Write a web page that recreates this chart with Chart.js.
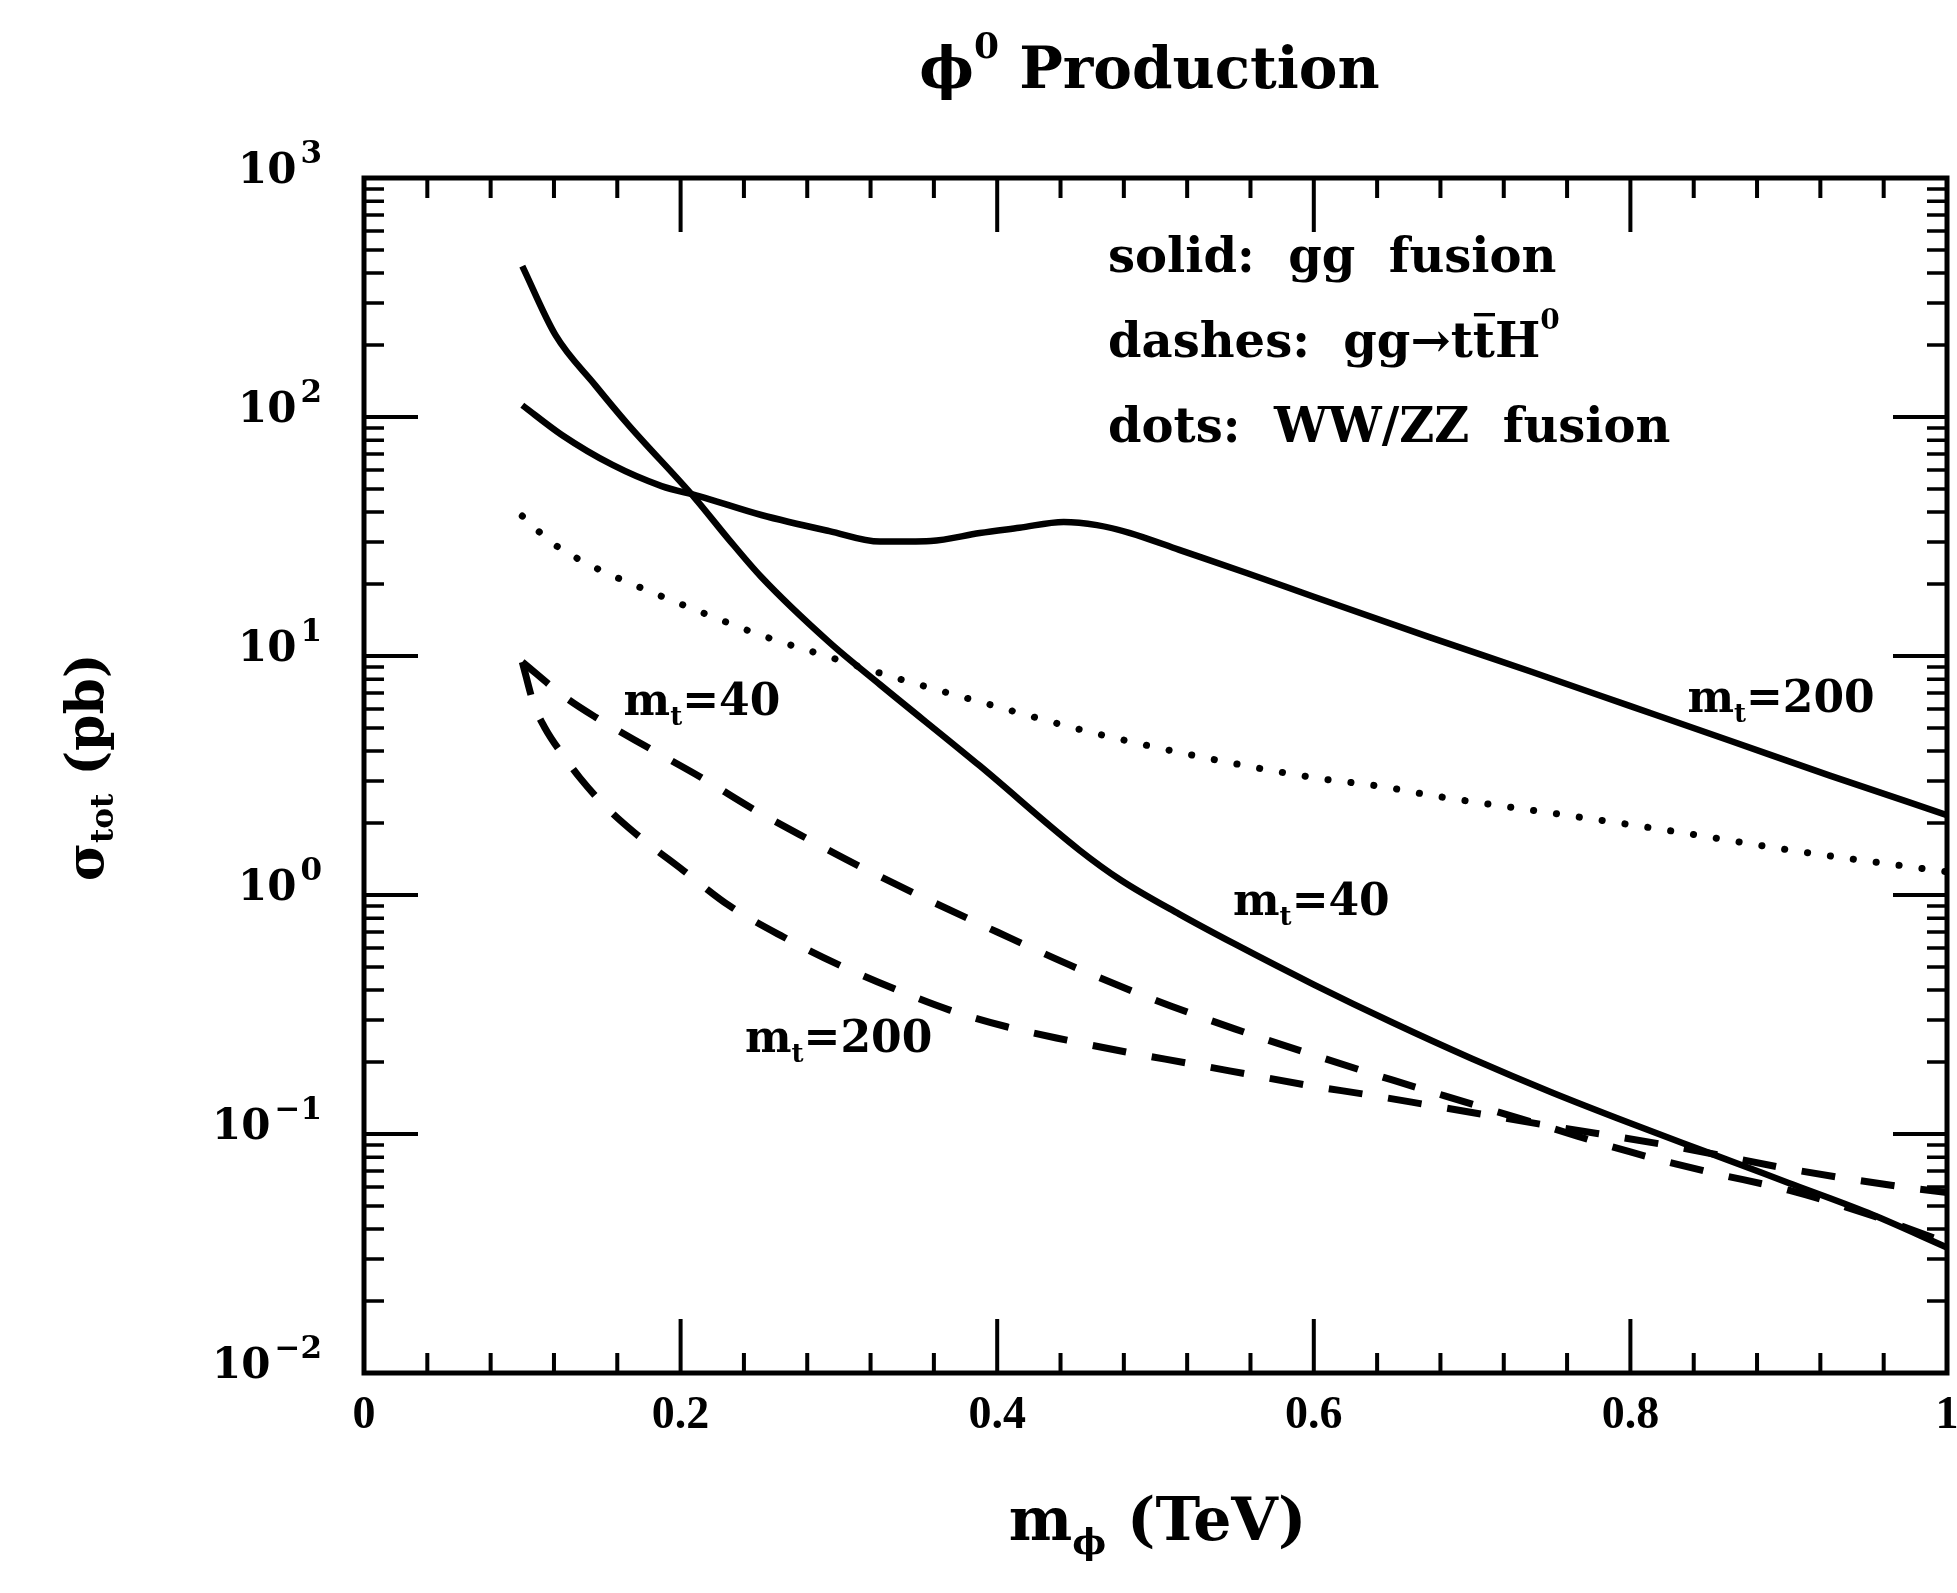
<!DOCTYPE html>
<html>
<head>
<meta charset="utf-8">
<script src="https://cdn.jsdelivr.net/npm/chart.js@4.4.1/dist/chart.umd.min.js"></script>
<style>
html,body{margin:0;padding:0;background:#fff;}
canvas{display:block;}
</style>
</head>
<body>
<canvas id="c" width="1957" height="1593"></canvas>
<script>
// ---------- axis ticks ----------
const xTickValues = [0, 0.2, 0.4, 0.6, 0.8, 1];
const xTickLabels = ['0', '0.2', '0.4', '0.6', '0.8', '1'];
const yTickValues = [0.01, 0.1, 1, 10, 100, 1000];
const yTickBase = '10';
const yTickExponents = ['\u22122', '\u22121', '0', '1', '2', '3'];

// ---------- series (m_phi in TeV, sigma_tot in pb) ----------
// solid: gg fusion, m_t = 40
const ggFusionMt40X = [0.10, 0.121, 0.146, 0.167, 0.209, 0.23, 0.251, 0.294, 0.326, 0.389, 0.452, 0.478, 0.515, 0.55, 0.60, 0.65, 0.70, 0.75, 0.80, 0.85, 0.90, 0.95, 1.00];
const ggFusionMt40Y = [428, 220, 136, 92.7, 45.8, 31.0, 21.4, 11.4, 7.59, 3.47, 1.54, 1.156, 0.832, 0.624, 0.422, 0.292, 0.2065, 0.1496, 0.1109, 0.0832, 0.0624, 0.0468, 0.0335];

// solid: gg fusion, m_t = 200
const ggFusionMt200X = [0.10, 0.125, 0.157, 0.188, 0.2115, 0.251, 0.294, 0.326, 0.358, 0.389, 0.414, 0.442, 0.463, 0.484, 0.515, 0.558, 0.60, 0.673, 0.737, 0.80, 0.863, 0.926, 1.00];
const ggFusionMt200Y = [112, 84.1, 63.0, 51.4, 46.7, 38.9, 33.3, 30.1, 30.3, 32.7, 34.4, 36.4, 35.3, 32.7, 27.8, 22.2, 17.7, 12.0, 8.61, 6.17, 4.42, 3.16, 2.16];

// dots: WW/ZZ fusion
const wwzzFusionX = [0.10, 0.119, 0.144, 0.171, 0.2115, 0.251, 0.292, 0.334, 0.389, 0.4585, 0.529, 0.601, 0.645, 0.673, 0.759, 0.829, 0.901, 1.00];
const wwzzFusionY = [38.5, 29.7, 23.8, 19.8, 15.4, 12.2, 10.0, 8.17, 6.43, 4.81, 3.78, 3.09, 2.83, 2.62, 2.16, 1.84, 1.54, 1.25];

// dashes: gg -> t tbar H0, m_t = 40
const ttHMt40X = [0.10, 0.127, 0.146, 0.18, 0.2135, 0.247, 0.281, 0.3146, 0.35, 0.40, 0.45, 0.50, 0.55, 0.60, 0.65, 0.70, 0.75, 0.80, 0.85, 0.90, 0.95, 1.00];
const ttHMt40Y = [9.44, 6.73, 5.56, 4.12, 3.09, 2.265, 1.706, 1.303, 1.00, 0.700, 0.4955, 0.363, 0.2754, 0.2138, 0.1679, 0.1334, 0.1059, 0.0841, 0.0692, 0.0582, 0.0462, 0.0351];

// dashes: gg -> t tbar H0, m_t = 200
const ttHMt200X = [0.10, 0.1074, 0.1143, 0.127, 0.1364, 0.1516, 0.171, 0.2015, 0.231, 0.265, 0.299, 0.335, 0.370, 0.406, 0.444, 0.482, 0.520, 0.558, 0.596, 0.634, 0.673, 0.75, 0.826, 0.900, 0.938, 0.977, 1.00];
const ttHMt200Y = [9.44, 6.24, 5.00, 3.74, 3.09, 2.38, 1.82, 1.27, 0.90, 0.667, 0.514, 0.405, 0.330, 0.281, 0.247, 0.220, 0.198, 0.178, 0.160, 0.146, 0.132, 0.108, 0.0891, 0.0715, 0.0649, 0.0594, 0.0569];

// ---------- text ----------
const chartTitle = 'Production';
// curve labels: anchor (left, baseline) in data units
const curveLabels = [
  { value: '40',  x: 0.164, y: 5.66 },
  { value: '200', x: 0.2407, y: 0.220 },
  { value: '40',  x: 0.549, y: 0.825 },
  { value: '200', x: 0.836, y: 5.83 }
];
const legendAnchor = { x: 0.47, y: [405, 178, 78.5] };

const FONT = "'DejaVu Serif', 'Liberation Serif', serif";
const NUMFONT = "'Liberation Serif', 'DejaVu Serif', serif";

function pts(xs, ys) { return xs.map((x, i) => ({ x: x, y: ys[i] })); }

function measureRich(ctx, parts) {
  let w = 0;
  for (const p of parts) {
    ctx.font = 'bold ' + p.size + 'px ' + (p.font || FONT);
    p._w = ctx.measureText(p.t).width + (p.gap || 0);
    w += p._w;
  }
  return w;
}

function drawRich(ctx, x, y, parts, align) {
  const w = measureRich(ctx, parts);
  let cx = align === 'center' ? x - w / 2 : (align === 'right' ? x - w : x);
  for (const p of parts) {
    ctx.font = 'bold ' + p.size + 'px ' + (p.font || FONT);
    ctx.fillText(p.t, cx, y + (p.dy || 0));
    if (p.over) {
      ctx.fillRect(cx + p._w * 0.05, y + (p.dy || 0) - p.size * 0.92, p._w * 0.95, p.size * 0.07);
    }
    cx += p._w;
  }
}

const frameAndTicks = {
  id: 'frameAndTicks',
  afterDatasetsDraw(chart) {
    const ctx = chart.ctx;
    const xs = chart.scales.x, ys = chart.scales.y;
    const a = chart.chartArea;
    const majorLen = 54, minorLen = 20;
    ctx.save();
    ctx.strokeStyle = '#000';
    ctx.lineCap = 'butt';
    ctx.lineWidth = 4;
    for (let i = 0; i <= 25; i++) {
      const v = i * 0.04;
      const px = xs.getPixelForValue(v);
      const len = (i % 5 === 0) ? majorLen : minorLen;
      ctx.beginPath();
      ctx.moveTo(px, a.bottom); ctx.lineTo(px, a.bottom - len);
      ctx.moveTo(px, a.top); ctx.lineTo(px, a.top + len);
      ctx.stroke();
    }
    for (let e = -2; e <= 2; e++) {
      for (let k = 1; k <= 9; k++) {
        const v = k * Math.pow(10, e);
        const py = ys.getPixelForValue(v);
        const len = (k === 1) ? majorLen : minorLen;
        ctx.lineWidth = (k === 1) ? 4 : 3.5;
        ctx.beginPath();
        ctx.moveTo(a.left, py); ctx.lineTo(a.left + len, py);
        ctx.moveTo(a.right, py); ctx.lineTo(a.right - len, py);
        ctx.stroke();
      }
    }
    ctx.lineWidth = 5;
    ctx.strokeRect(a.left, a.top, a.right - a.left, a.bottom - a.top);
    ctx.restore();
  },
  afterDraw(chart) {
    const ctx = chart.ctx;
    const xs = chart.scales.x, ys = chart.scales.y;
    const a = chart.chartArea;
    ctx.save();
    ctx.fillStyle = '#000';
    ctx.textBaseline = 'alphabetic';
    ctx.textAlign = 'left';
    // y tick labels: 10 with superscript exponent, right aligned
    yTickValues.forEach((v, i) => {
      const py = ys.getPixelForValue(v);
      drawRich(ctx, a.left - 42, py + 5, [
        { t: yTickBase, size: 42, gap: 4 },
        { t: yTickExponents[i], size: 31, dy: -20 }
      ], 'right');
    });
    // title
    drawRich(ctx, (a.left + a.right) / 2 - 6, 88, [
      { t: '\u03D5', size: 58 },
      { t: '0', size: 36, dy: -30 },
      { t: ' ' + chartTitle, size: 58 }
    ], 'center');
    // x axis title
    drawRich(ctx, (a.left + a.right) / 2 + 2, 1540, [
      { t: 'm', size: 60 },
      { t: '\u03D5', size: 36, dy: 14 },
      { t: ' (TeV)', size: 60 }
    ], 'center');
    // y axis title (rotated)
    ctx.save();
    ctx.translate(103, (a.top + a.bottom) / 2 - 8);
    ctx.rotate(-Math.PI / 2);
    drawRich(ctx, 0, 0, [
      { t: '\u03C3', size: 52 },
      { t: 'tot', size: 31, dy: 10 },
      { t: ' (pb)', size: 52 }
    ], 'center');
    ctx.restore();
    // legend text
    const lx = xs.getPixelForValue(legendAnchor.x);
    drawRich(ctx, lx, ys.getPixelForValue(legendAnchor.y[0]), [{ t: 'solid:  gg  fusion', size: 48 }]);
    drawRich(ctx, lx, ys.getPixelForValue(legendAnchor.y[1]), [
      { t: 'dashes:  gg\u2192t', size: 48 },
      { t: 't', size: 48, over: true },
      { t: 'H', size: 48 },
      { t: '0', size: 28, dy: -28 }
    ]);
    drawRich(ctx, lx, ys.getPixelForValue(legendAnchor.y[2]), [{ t: 'dots:  WW/ZZ  fusion', size: 48 }]);
    // curve labels
    for (const L of curveLabels) {
      drawRich(ctx, xs.getPixelForValue(L.x), ys.getPixelForValue(L.y), [
        { t: 'm', size: 44 },
        { t: 't', size: 26, dy: 10 },
        { t: '=' + L.value, size: 44 }
      ]);
    }
    ctx.restore();
  }
};

const solidStyle = { borderColor: '#000', borderWidth: 6.5, pointRadius: 0, cubicInterpolationMode: 'monotone', fill: false };
const dashStyle = { borderColor: '#000', borderWidth: 7, pointRadius: 0, cubicInterpolationMode: 'monotone', fill: false, borderDash: [34, 26], borderCapStyle: 'butt' };
const dotStyle = { borderColor: '#000', borderWidth: 7, pointRadius: 0, cubicInterpolationMode: 'monotone', fill: false, borderDash: [0.1, 23], borderCapStyle: 'round' };

new Chart(document.getElementById('c'), {
  type: 'line',
  data: {
    datasets: [
      Object.assign({ label: 'gg fusion, m_t=40', data: pts(ggFusionMt40X, ggFusionMt40Y) }, solidStyle),
      Object.assign({ label: 'gg fusion, m_t=200', data: pts(ggFusionMt200X, ggFusionMt200Y) }, solidStyle),
      Object.assign({ label: 'WW/ZZ fusion', data: pts(wwzzFusionX, wwzzFusionY) }, dotStyle),
      Object.assign({ label: 'gg\u2192ttH, m_t=40', data: pts(ttHMt40X, ttHMt40Y) }, dashStyle),
      Object.assign({ label: 'gg\u2192ttH, m_t=200', data: pts(ttHMt200X, ttHMt200Y) }, dashStyle)
    ]
  },
  options: {
    responsive: false,
    animation: false,
    devicePixelRatio: 1,
    layout: { padding: { top: 178, right: 10, bottom: 0, left: 0 } },
    plugins: { legend: { display: false }, title: { display: false }, tooltip: { enabled: false } },
    scales: {
      x: {
        type: 'linear', min: 0, max: 1,
        grid: { display: false, drawTicks: false, tickLength: 0 },
        border: { display: false },
        afterBuildTicks: s => { s.ticks = xTickValues.map(v => ({ value: v })); },
        afterFit: s => { s.height = 220; s.paddingLeft = 0; s.paddingRight = 0; },
        ticks: {
          autoSkip: false, maxRotation: 0, padding: 16, color: '#000',
          font: { family: NUMFONT, size: 46, weight: 'bold' },
          callback: (v, i) => xTickLabels[i]
        },
        title: { display: false }
      },
      y: {
        type: 'logarithmic', min: 0.01, max: 1000,
        grid: { display: false, drawTicks: false, tickLength: 0 },
        border: { display: false },
        afterBuildTicks: s => { s.ticks = yTickValues.map(v => ({ value: v })); },
        afterFit: s => { s.width = 364; s.paddingTop = 0; s.paddingBottom = 0; },
        ticks: { display: false },
        title: { display: false }
      }
    }
  },
  plugins: [frameAndTicks]
});
</script>
</body>
</html>
